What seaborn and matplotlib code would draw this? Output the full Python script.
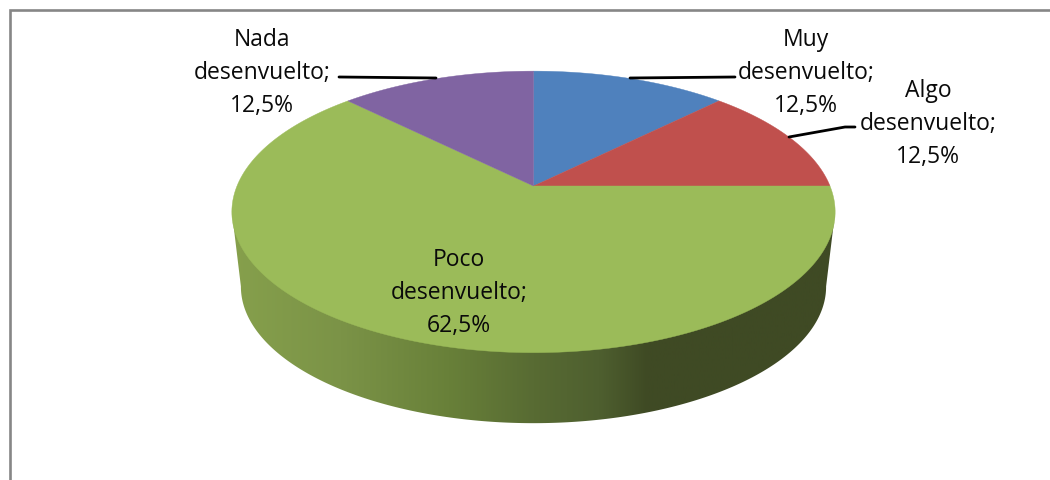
import numpy as np
import seaborn as sns
import matplotlib.pyplot as plt
from matplotlib.colors import LinearSegmentedColormap
from matplotlib.patches import Polygon

categories = ['Muy\ndesenvuelto;', 'Algo\ndesenvuelto;', 'Poco\ndesenvuelto;', 'Nada\ndesenvuelto;']
shares = [12.5, 12.5, 62.5, 12.5]
share_labels = ['12,5%', '12,5%', '62,5%', '12,5%']


def project(theta, cx=533.5, cy=187, scale=1.0):
    # tilted circle, the far side looks smaller
    u, v = np.sin(theta), np.cos(theta)
    w = 1 + 0.184 * v
    return cx + scale * 296.5 * u / w, cy - scale * 136 * v / w


sns.set_theme(style='white')
plt.rcParams['font.family'] = ['Open Sans', 'DejaVu Sans']
colors = ['#4f81bd', '#c0504d', '#9bbb59', '#8064a2']

fig = plt.figure(figsize=(10.5, 4.81), dpi=100)
ax = fig.add_axes([0, 0, 1, 1])
ax.axis('off')

# chart frame
ax.plot([9.7, 9.7, 1050], [481, 11, 11], color='#868686', lw=1.9, solid_joinstyle='miter')

# side of the pie with the horizontal shading
t = np.linspace(0, 2 * np.pi, 721)
top_x, top_y = project(t)
low_x, low_y = project(t, cy=262.5, scale=0.97)
# front arc of the base, between its left and right ends
r_end, l_end = np.argmax(low_x), np.argmin(low_x)
arc_x, arc_y = low_x[r_end:l_end + 1], low_y[r_end:l_end + 1]
tl, tr = np.argmin(top_x), np.argmax(top_x)
side = Polygon(np.column_stack([np.r_[top_x[tr], arc_x, top_x[tl]], np.r_[top_y[tr], arc_y, top_y[tl]]]),
               closed=True, fc='none', ec='none')
ax.add_patch(side)
shade = LinearSegmentedColormap.from_list(
    'side', [(0, '#86a04c'), (0.18, '#7b9347'), (0.36, '#688039'), (0.5, '#586b33'),
             (0.61, '#4e5f2f'), (0.69, '#3f4a24'), (1, '#3f4a24')])
im = ax.imshow(np.linspace(0, 1, 256)[None, :], extent=[232, 835, 481, 0], cmap=shade, aspect='auto', zorder=2)
im.set_clip_path(side)
ax.set_xlim(0, 1050)
ax.set_ylim(481, 0)

# top of the pie
start = 0.0
for share, color in zip(shares, colors):
    end = start + share / sum(shares) * 2 * np.pi
    a = np.linspace(start, end, 200)
    x, y = project(a)
    ax.add_patch(Polygon(np.column_stack([np.r_[533.5, x], np.r_[187, y]]), closed=True,
                         fc=color, ec=color, lw=0.3, zorder=3))
    start = end

# leader lines
ax.plot([630, 735], [79, 78], color='black', lw=2, zorder=4)
ax.plot([789, 845, 855], [138, 128, 128], color='black', lw=2, zorder=4)
ax.plot([339, 436], [78, 79], color='black', lw=2, zorder=4)

# data labels
label_pos = [(806, 73), (928, 124), (459, 293), (262, 73)]
for (lx, ly), cat, pct in zip(label_pos, categories, share_labels):
    ax.text(lx, ly, cat + '\n' + pct, ha='center', va='center', fontsize=16.5,
            color='#0a0a0a', linespacing=1.52, zorder=5)

fig.savefig('out.png', dpi=100, facecolor='white')
